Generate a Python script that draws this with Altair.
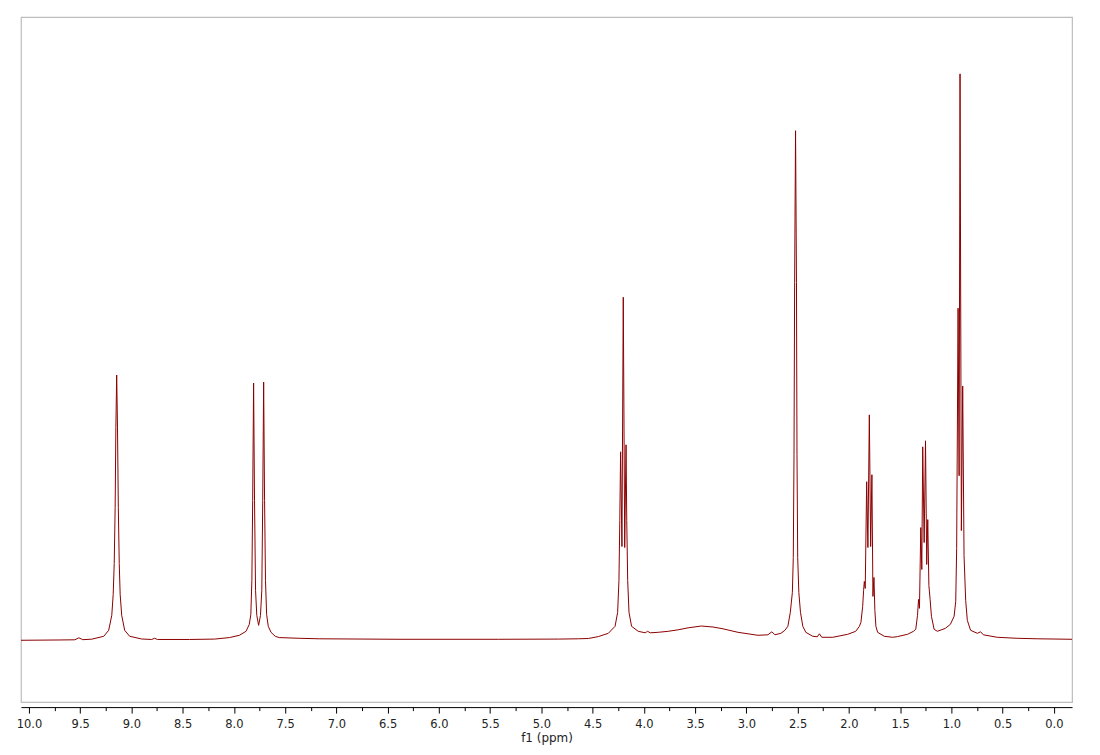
import altair as alt
import pandas as pd

# Chemical shift (ppm) and intensity (arbitrary units)
ppm = [10.078, 9.698, 9.552, 9.513, 9.475, 9.387, 9.270, 9.222, 9.192, 9.178,
       9.168, 9.159, 9.152, 9.144, 9.136, 9.128, 9.119, 9.110, 9.095, 9.066,
       9.017, 8.900, 8.803, 8.774, 8.745, 8.433, 8.190, 8.044, 7.947, 7.882,
       7.850, 7.835, 7.825, 7.817, 7.808, 7.799, 7.789, 7.777, 7.759, 7.741,
       7.728, 7.719, 7.710, 7.701, 7.692, 7.681, 7.665, 7.638, 7.597, 7.558,
       7.363, 7.168, 6.390, 5.417, 4.833, 4.639, 4.541, 4.444, 4.347, 4.281,
       4.256, 4.243, 4.235, 4.227, 4.214, 4.201, 4.187, 4.174, 4.167, 4.158,
       4.145, 4.120, 4.055, 3.987, 3.964, 3.938, 3.860, 3.763, 3.665, 3.568,
       3.439, 3.325, 3.228, 3.082, 2.984, 2.887, 2.790, 2.751, 2.722, 2.663,
       2.624, 2.595, 2.571, 2.551, 2.542, 2.535, 2.529, 2.520, 2.511, 2.506,
       2.499, 2.488, 2.472, 2.449, 2.420, 2.352, 2.308, 2.287, 2.264, 2.157,
       2.011, 1.933, 1.897, 1.882, 1.865, 1.856, 1.849, 1.840, 1.826, 1.814,
       1.800, 1.787, 1.775, 1.765, 1.755, 1.746, 1.736, 1.719, 1.654, 1.573,
       1.525, 1.427, 1.369, 1.347, 1.330, 1.320, 1.311, 1.298, 1.288, 1.279,
       1.265, 1.252, 1.240, 1.230, 1.219, 1.207, 1.194, 1.168, 1.136, 1.058,
       1.009, 0.973, 0.957, 0.948, 0.934, 0.924, 0.915, 0.902, 0.889, 0.876,
       0.860, 0.844, 0.812, 0.746, 0.714, 0.688, 0.552, 0.357, 0.162, -0.178]

intensity = [0, 0.3, 0.5, 2.5, 0.6, 1.1, 4, 10, 25, 46,
             77, 133, 213, 266, 213, 133, 77, 46, 25, 10,
             4, 1.3, 0.8, 2, 0.8, 0.8, 1.2, 2.7, 5, 9,
             16, 26, 60, 140, 258, 140, 50, 25, 15, 25,
             50, 140, 259, 140, 60, 26, 14, 8, 4, 2.7,
             2, 1.5, 1, 1, 1.2, 1.5, 1.8, 3.7, 7, 14,
             28, 60, 120, 189, 94, 344, 93, 196, 120, 60,
             28, 14, 9, 7.5, 9, 7.5, 8, 9, 10.5, 12.5,
             14.3, 13.3, 11.5, 8, 6.5, 5, 5.5, 8.5, 5.5, 7,
             10, 14, 28, 48, 83, 186, 359, 511, 359, 186,
             83, 48, 28, 14, 8, 4, 3.5, 6.5, 3, 3,
             6, 9, 14, 18, 34, 50, 59, 52, 159, 93,
             226, 94, 166, 44, 63, 30, 14, 8, 4, 3,
             3.7, 6, 9, 11, 25, 41, 32, 113, 71, 194,
             98, 200, 76, 121, 55, 41, 24, 11, 9, 12,
             16, 24, 39, 92, 333, 165, 568, 110, 255, 85,
             40, 20, 10, 7, 8.5, 5.5, 3, 2, 1.5, 1]

major_ticks = [10.0, 9.5, 9.0, 8.5, 8.0, 7.5, 7.0, 6.5, 6.0, 5.5, 5.0,
               4.5, 4.0, 3.5, 3.0, 2.5, 2.0, 1.5, 1.0, 0.5, 0.0]
minor_ticks = [9.75, 9.25, 8.75, 8.25, 7.75, 7.25, 6.75, 6.25, 5.75, 5.25,
               4.75, 4.25, 3.75, 3.25, 2.75, 2.25, 1.75, 1.25, 0.75, 0.25]

df = pd.DataFrame({"ppm": ppm, "intensity": intensity})

xscale = alt.Scale(domain=[-0.178, 10.078], reverse=True, nice=False, zero=False)
yscale = alt.Scale(domain=[-62, 625], nice=False, zero=False)

font = "DejaVu Sans"

spectrum = alt.Chart(df).mark_line(color="#8b0000", strokeWidth=1, clip=True).encode(
    x=alt.X("ppm:Q", scale=xscale,
            axis=alt.Axis(values=major_ticks, format=".1f", title="f1 (ppm)",
                          orient="bottom", offset=5, grid=False,
                          domainColor="#000000", tickColor="#000000",
                          tickSize=6, labelFont=font, labelFontSize=11.5,
                          labelColor="#222222", titleFont=font,
                          titleFontSize=12, titleFontWeight="normal",
                          titleColor="#222222", titlePadding=3,
                          labelPadding=5, labelFlush=False)),
    y=alt.Y("intensity:Q", scale=yscale, axis=None),
    order=alt.Order("ppm:Q"),
)

minor = alt.Chart(df).mark_line(opacity=0).encode(
    x=alt.X("ppm:Q", scale=xscale,
            axis=alt.Axis(values=minor_ticks, labels=False, title=None,
                          orient="bottom", offset=5, grid=False, domain=False,
                          tickColor="#000000", tickSize=3.5)),
    y=alt.Y("intensity:Q", scale=yscale, axis=None),
)

chart = alt.layer(spectrum, minor).resolve_axis(x="independent").properties(
    width=1054,
    height=687,
    padding={"left": 13, "top": 8, "right": 20, "bottom": 50},
    autosize=alt.AutoSizeParams(type="none"),
    background="white",
).configure_view(stroke="#bdbdbd", strokeWidth=1.2)

chart.save("out.html", embed_options={"renderer": "svg", "actions": False})
